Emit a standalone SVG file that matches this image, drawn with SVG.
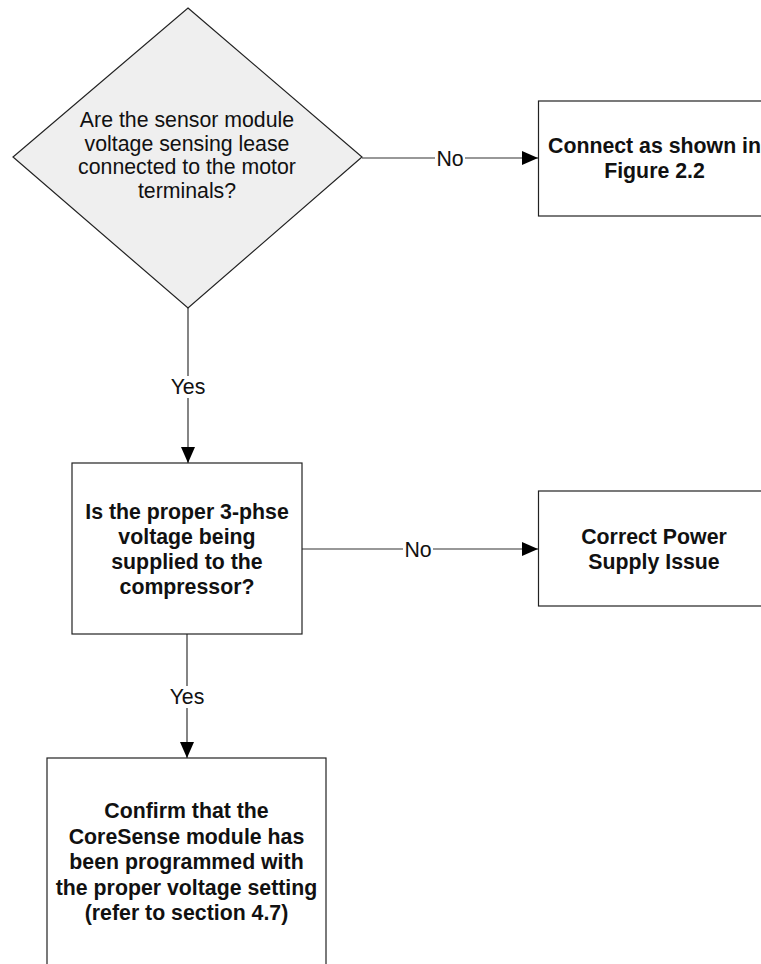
<svg xmlns="http://www.w3.org/2000/svg" width="761" height="964" viewBox="0 0 761 964">
<defs>
<style>
.shape{stroke:#222;stroke-width:1.2;fill:#fff}
.dia{fill:#efefef}
.t{font-family:"Liberation Sans",Arial,sans-serif;font-size:21.3px;fill:#111;text-anchor:middle}
.b{font-weight:bold}
.conn{stroke:#333;stroke-width:1.2;fill:none}
.lblbg{fill:#fff}
</style>
<marker id="arr" viewBox="0 0 16 14" refX="16" refY="7" markerWidth="16" markerHeight="14" markerUnits="userSpaceOnUse" orient="auto">
<path d="M0,0 L16,7 L0,14 Z" fill="#000"/>
</marker>
</defs>
<rect width="761" height="964" fill="#fff"/>
<g id="connectors">
<line class="conn" x1="362" y1="158" x2="538" y2="158" marker-end="url(#arr)"/>
<rect class="lblbg" x="435" y="148" width="30" height="22"/>
<text class="t" x="450" y="166">No</text>
<line class="conn" x1="188" y1="308" x2="188" y2="463" marker-end="url(#arr)"/>
<rect class="lblbg" x="170" y="376" width="36" height="22"/>
<text class="t" x="188" y="394">Yes</text>
<line class="conn" x1="302" y1="549" x2="538" y2="549" marker-end="url(#arr)"/>
<rect class="lblbg" x="403" y="539" width="30" height="22"/>
<text class="t" x="418" y="557">No</text>
<line class="conn" x1="187" y1="634" x2="187" y2="758" marker-end="url(#arr)"/>
<rect class="lblbg" x="169" y="686" width="36" height="22"/>
<text class="t" x="187" y="704">Yes</text>
</g>
<g id="decision1">
<polygon class="shape dia" points="188,8 362,157 188,308 13,157"/>
<text class="t" x="187" y="126.5">Are the sensor module</text>
<text class="t" x="187" y="150.5">voltage sensing lease</text>
<text class="t" x="187" y="174">connected to the motor</text>
<text class="t" x="187" y="198">terminals?</text>
</g>
<g id="connect">
<rect class="shape" x="538.5" y="101" width="232" height="115"/>
<text class="t b" x="654.5" y="153">Connect as shown in</text>
<text class="t b" x="654.5" y="177.5">Figure 2.2</text>
</g>
<g id="decision2">
<rect class="shape" x="72" y="463" width="230" height="171"/>
<text class="t b" x="187" y="518.5">Is the proper 3-phse</text>
<text class="t b" x="187" y="543.5">voltage being</text>
<text class="t b" x="187" y="568.5">supplied to the</text>
<text class="t b" x="187" y="593.5">compressor?</text>
</g>
<g id="power">
<rect class="shape" x="538.5" y="491" width="232" height="115"/>
<text class="t b" x="654" y="544">Correct Power</text>
<text class="t b" x="654" y="569">Supply Issue</text>
</g>
<g id="confirm">
<rect class="shape" x="47" y="758" width="279" height="220"/>
<text class="t b" x="186.5" y="818">Confirm that the</text>
<text class="t b" x="186.5" y="843.5">CoreSense module has</text>
<text class="t b" x="186.5" y="868.5">been programmed with</text>
<text class="t b" x="186.5" y="895">the proper voltage setting</text>
<text class="t b" x="186.5" y="920">(refer to section 4.7)</text>
</g>
</svg>
